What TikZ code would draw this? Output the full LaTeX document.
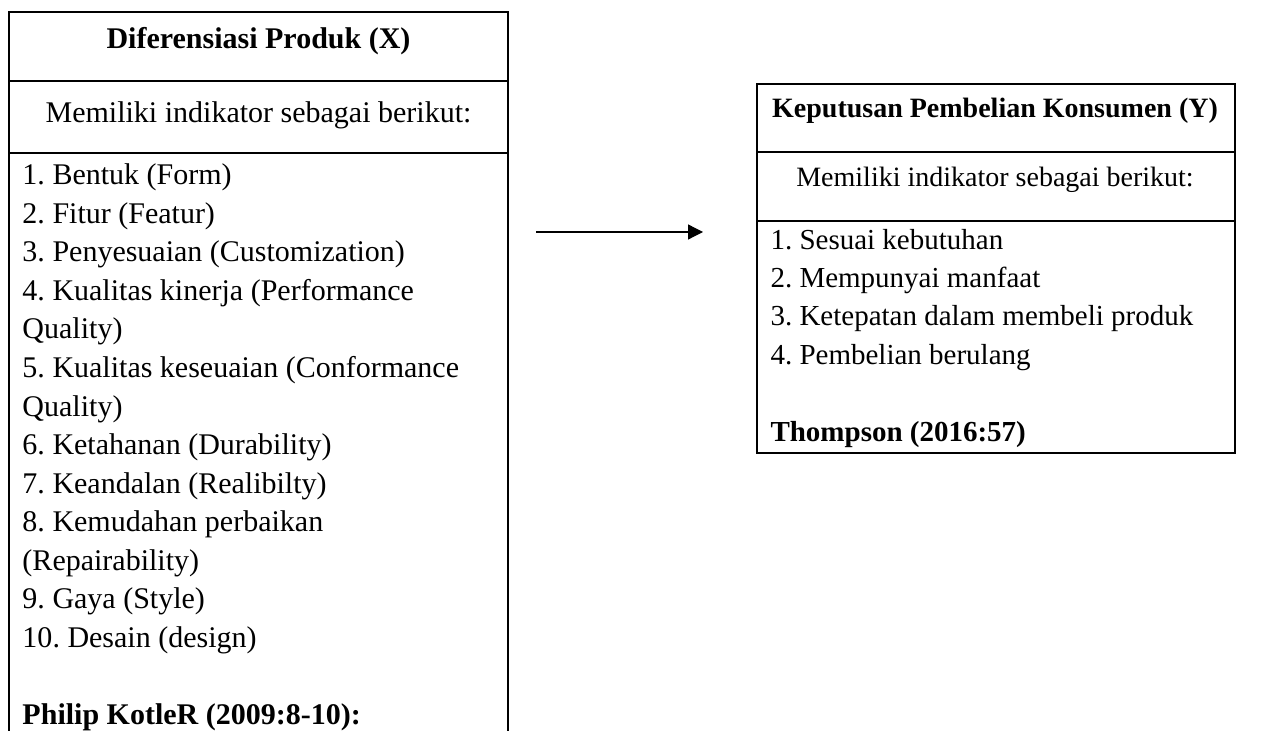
\documentclass[tikz,border=0pt]{standalone}
\usepackage{fontspec}
\setmainfont{Liberation Serif}
\usetikzlibrary{arrows.meta}
\frenchspacing
\begin{document}
\begin{tikzpicture}[x=0.4pt,y=-0.4pt,
  frame/.style={line width=0.8pt},
  txt/.style={inner sep=0pt,anchor=base west,font=\fontsize{12pt}{14pt}\selectfont},
  ctxt/.style={inner sep=0pt,anchor=base,font=\fontsize{12pt}{14pt}\selectfont},
  rtxt/.style={inner sep=0pt,anchor=base west,font=\fontsize{11.6pt}{14pt}\selectfont},
  rctxt/.style={inner sep=0pt,anchor=base,font=\fontsize{11.2pt}{14pt}\selectfont},
  link/.style={line width=0.5pt,-{Triangle[length=6pt,width=6pt]}}]
\useasboundingbox (0,0) rectangle (1277,731);
% left box (open at bottom)
\draw[frame] (9,731) -- (9,12) -- (508,12) -- (508,731);
\draw[frame] (9,81) -- (508,81);
\draw[frame] (9,153) -- (508,153);
\node[ctxt] (xtitle) at (258.5,49) {\bfseries Diferensiasi Produk (X)};
\node[ctxt] (xsub) at (258.5,123) {Memiliki indikator sebagai berikut:};
\node[txt] (x1) at (22,185) {1. Bentuk (Form)};
\node[txt] (x2) at (22,223.5) {2. Fitur (Featur)};
\node[txt] (x3) at (22,262) {3. Penyesuaian (Customization)};
\node[txt] (x4) at (22,300.5) {4. Kualitas kinerja (Performance};
\node[txt] (x4b) at (22,339) {Quality)};
\node[txt] (x5) at (22,377.5) {5. Kualitas keseuaian (Conformance};
\node[txt] (x5b) at (22,416) {Quality)};
\node[txt] (x6) at (22,454.5) {6. Ketahanan (Durability)};
\node[txt] (x7) at (22,493) {7. Keandalan (Realibilty)};
\node[txt] (x8) at (22,531.5) {8. Kemudahan perbaikan};
\node[txt] (x8b) at (22,570) {(Repairability)};
\node[txt] (x9) at (22,608.5) {9. Gaya (Style)};
\node[txt] (x10) at (22,647) {10. Desain (design)};
\node[txt] (xsrc) at (22,724) {\bfseries Philip KotleR (2009:8-10):};
% right box
\draw[frame] (757,84) rectangle (1235,453);
\draw[frame] (757,152) -- (1235,152);
\draw[frame] (757,221) -- (1235,221);
\node[rctxt] (ytitle) at (995,118) {\bfseries Keputusan Pembelian Konsumen (Y)};
\node[rctxt] (ysub) at (995,187) {Memiliki indikator sebagai berikut:};
\node[rtxt] (y1) at (770,250) {1. Sesuai kebutuhan};
\node[rtxt] (y2) at (770,288) {2. Mempunyai manfaat};
\node[rtxt] (y3) at (770,326) {3. Ketepatan dalam membeli produk};
\node[rtxt] (y4) at (770,364) {4. Pembelian berulang};
\node[rtxt] (ysrc) at (770,441) {\bfseries Thompson (2016:57)};
% arrow
\coordinate (a1) at (536,232);
\coordinate (a2) at (703,232);
\draw[link] (a1) -- (a2);
\end{tikzpicture}
\end{document}
